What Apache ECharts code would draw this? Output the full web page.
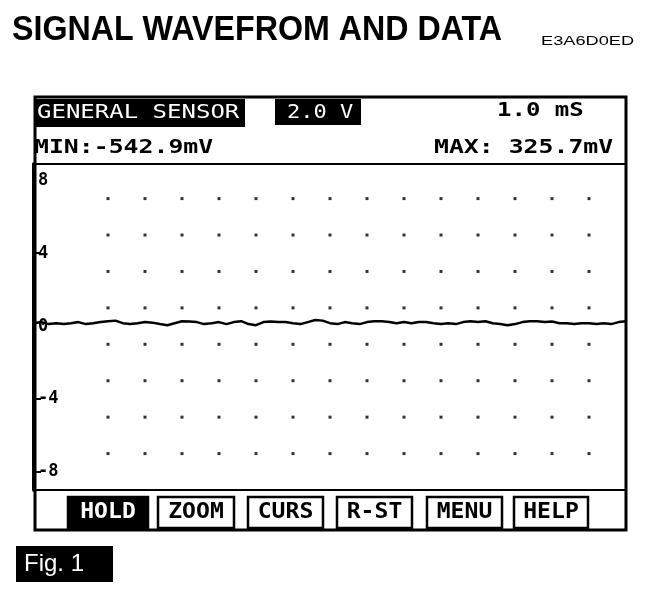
<!DOCTYPE html>
<html><head><meta charset="utf-8">
<script src="https://cdn.jsdelivr.net/npm/echarts@6/dist/echarts.min.js"></script>
<style>html,body{margin:0;padding:0;background:#fff}#c{width:672px;height:598px}</style>
</head><body><div id="c"></div><script>
const titleText = 'SIGNAL WAVEFROM AND DATA';
const codeText = 'E3A6D0ED';
const headerLabel = 'GENERAL SENSOR';
const voltsPerDiv = '2.0 V';
const timePerDiv = '1.0 mS';
const minText = 'MIN:-542.9mV';
const maxText = 'MAX: 325.7mV';
const buttonLabels = ['HOLD', 'ZOOM', 'CURS', 'R-ST', 'MENU', 'HELP'];
const figLabel = 'Fig. 1';
const yTickLabels = [8, 4, 0, -4, -8];
const yTickMarks = [4, -4, -8];
const dotCols = [2, 3, 4, 5, 6, 7, 8, 9, 10, 11, 12, 13, 14, 15];
const dotRows = [7, 5, 3, 1, -1, -3, -5, -7];
const waveTimes = [0,0.2,0.4,0.6,0.8,1,1.2,1.4,1.6,1.8,2,2.2,2.4,2.6,2.8,3,3.2,3.4,3.6,3.8,4,4.2,4.4,4.6,4.8,5,5.2,5.4,5.6,5.8,6,6.2,6.4,6.6,6.8,7,7.2,7.4,7.6,7.8,8,8.2,8.4,8.6,8.8,9,9.2,9.4,9.6,9.8,10,10.2,10.4,10.6,10.8,11,11.2,11.4,11.6,11.8,12,12.2,12.4,12.6,12.8,13,13.2,13.4,13.6,13.8,14,14.2,14.4,14.6,14.8,15,15.2,15.4,15.6,15.8,16];
const waveValues = [0.16,0.22,0.11,0.16,0.11,0.16,0.22,0.11,0.16,0.22,0.27,0.30,0.16,0.11,0.16,0.22,0.19,0.11,0.05,0.16,0.27,0.25,0.22,0.11,0.16,0.22,0.11,0.22,0.27,0.11,0.05,0.22,0.25,0.22,0.22,0.16,0.11,0.22,0.33,0.30,0.16,0.11,0.22,0.16,0.11,0.22,0.27,0.27,0.22,0.16,0.22,0.16,0.22,0.22,0.16,0.11,0.16,0.11,0.22,0.27,0.22,0.27,0.16,0.11,0.05,0.11,0.22,0.27,0.27,0.22,0.25,0.16,0.16,0.11,0.16,0.16,0.11,0.16,0.11,0.22,0.27];

const chart = echarts.init(document.getElementById('c'), null, {renderer: 'canvas'});
const lcd = '"DejaVu Sans Mono"';

const dots = [];
dotRows.forEach(r => dotCols.forEach(c => dots.push([c, r])));
const wave = waveTimes.map((t, i) => [t, waveValues[i]]);

function txt(text, x, y, size, bold, color, sx, family) {
  return {type: 'text', x: x, y: y, scaleX: sx || 1, z: 10,
    style: {text: text, font: (bold ? 'bold ' : '') + size + 'px ' + (family || lcd), fill: color}};
}

const btnX = [68, 158, 248, 337, 427, 514];
const btnW = [80, 76, 75, 75, 75, 74];
const graphics = [
  txt(titleText, 12, 13, 35, true, '#000', 0.92, '"Liberation Sans"'),
  txt(codeText, 541, 35, 13, false, '#000', 1.4, '"Liberation Sans"'),
  {type: 'rect', shape: {x: 35, y: 97, width: 591, height: 433}, style: {fill: 'none', stroke: '#000', lineWidth: 3}},
  {type: 'rect', shape: {x: 34, y: 99, width: 211, height: 28}, style: {fill: '#000'}},
  {type: 'rect', shape: {x: 275, y: 99, width: 86, height: 26}, style: {fill: '#000'}},
  {type: 'line', shape: {x1: 35, y1: 164, x2: 626, y2: 164}, style: {stroke: '#000', lineWidth: 2}},
  {type: 'line', shape: {x1: 35, y1: 490, x2: 626, y2: 490}, style: {stroke: '#000', lineWidth: 2}},
  txt(headerLabel, 37, 103, 20, false, '#fff', 1.2),
  txt(voltsPerDiv, 287, 103, 20, false, '#fff', 1.1),
  txt(timePerDiv, 497, 101, 20, true, '#000', 1.2),
  txt(minText, 34, 138, 20, true, '#000', 1.24),
  txt(maxText, 434, 138, 20, true, '#000', 1.24),
  {type: 'rect', shape: {x: 16, y: 546, width: 97, height: 36}, style: {fill: '#000'}},
  txt(figLabel, 24, 552, 24, false, '#fff', 1, '"Liberation Sans"')
];
buttonLabels.forEach((b, i) => {
  const hold = i === 0;
  graphics.push({type: 'rect', shape: {x: btnX[i], y: 497, width: btnW[i], height: 31},
    style: {fill: hold ? '#000' : '#fff', stroke: '#000', lineWidth: 2.5}});
  graphics.push({type: 'text', x: btnX[i] + btnW[i] / 2, y: 513, scaleX: 1.1, z: 10,
    style: {text: b, font: 'bold 21px ' + lcd, fill: hold ? '#fff' : '#000', align: 'center', verticalAlign: 'middle'}});
});

chart.setOption({
  animation: false,
  backgroundColor: '#fff',
  grid: {left: 34, right: 46, top: 164, bottom: 108},
  xAxis: {type: 'value', min: 0, max: 16, show: false},
  yAxis: {type: 'value', min: -9, max: 8.9,
    axisLine: {show: true, lineStyle: {color: '#000', width: 4}},
    axisTick: {show: true, inside: true, length: 7, customValues: yTickMarks, lineStyle: {color: '#000', width: 2}},
    axisLabel: {show: true, inside: true, margin: 4, customValues: yTickLabels, color: '#000',
      fontFamily: 'DejaVu Sans Mono', fontWeight: 'bold', fontSize: 17},
    splitLine: {show: false}},
  graphic: graphics,
  series: [
    {type: 'scatter', data: dots, symbol: 'rect', symbolSize: 3, itemStyle: {color: '#000'}, silent: true},
    {type: 'line', data: wave, showSymbol: false, lineStyle: {color: '#000', width: 2.5}, silent: true}
  ]
});
</script></body></html>
